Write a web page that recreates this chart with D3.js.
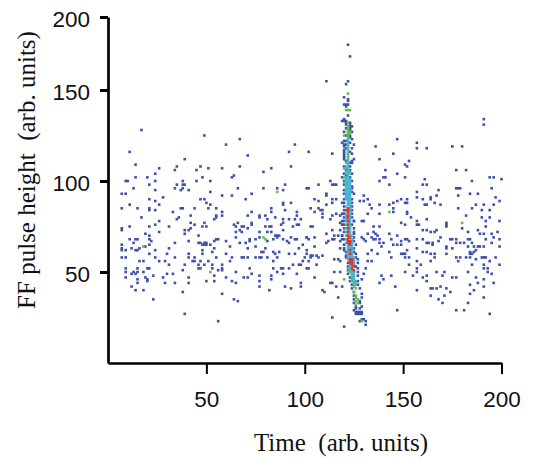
<!DOCTYPE html>
<html>
<head>
<meta charset="utf-8">
<script src="https://cdn.jsdelivr.net/npm/d3@7"></script>
<style>
body { margin: 0; background: #fff; }
svg { display: block; }
</style>
</head>
<body>
<div id="chart"></div>
<script>
// [time, pulse height], one array per count level
const bluePts = [
[17,128],[11,116],[14,109],[26,107],[24,104],[20,102],[14,102],[9,100],[10,100],[24,100],[21,98],[13,96],[24,95],[7,93],[9,93],[28,91],[21,90],[24,89],[11,87],[26,87],[7,85],[15,85],[21,85],[21,84],[24,84],[17,80],[26,78],[21,75],[24,76],[31,75],[11,75],[7,74],
[39,112],[35,108],[34,106],[38,100],[39,98],[35,98],[38,98],[38,96],[37,95],[34,96],[41,95],[45,100],[48,102],[47,108],[45,106],[51,107],[52,100],[52,94],[49,125],[60,120],[67,123],[71,114],[67,108],[58,107],[64,103],[63,102],[79,105],[83,107],[93,108],[92,116],[95,120],[102,116],[90,98],[86,96],[89,95],[79,96],[66,96],[73,93],[63,92],[58,92],[70,90],[47,90],[49,90],[50,88],[52,87],[37,85],[38,85],[44,85],[51,85],[55,85],[33,83],[42,81],[36,80],[35,79],[58,83],[58,81],[55,81],[55,80],[54,79],[49,77],[42,77],[44,76],[48,75],[50,75],[73,83],[71,81],[77,81],[77,80],[80,81],[83,85],[83,83],[81,79],[85,80],[89,79],[92,79],[95,79],[98,79],[96,83],[96,81],[90,84],[89,88],[89,87],[93,88],[101,96],[102,96],[64,76],[66,77],[68,75],[69,75],[71,74],[73,77],[73,76],[80,75],[82,75],[83,75],[89,77],[88,76],[94,75],[96,76],[97,76],[42,74],[65,75],
[7,73],[41,73],[39,73],[26,72],[39,71],[46,70],[65,72],[65,69],[67,73],[68,72],[77,72],[81,72],[83,72],[89,73],[85,70],[84,68],[86,69],[87,70],[86,70],[89,68],[81,67],[77,69],[75,68],[72,68],[72,67],[70,66],[67,66],[62,64],[60,67],[55,68],[56,68],[54,67],[52,65],[50,65],[49,65],[48,65],[47,66],[50,66],[49,66],[46,66],[41,67],[34,66],[31,63],[30,60],[34,58],[24,62],[21,65],[22,67],[21,70],[19,71],[21,68],[15,68],[14,68],[13,66],[11,68],[7,65],[7,63],[7,62],[9,62],[12,63],[14,62],[15,62],[16,63],[19,64],[21,60],[24,58],[26,56],[29,56],[31,54],[18,56],[16,56],[7,58],[9,58],[9,52],[9,50],[12,49],[13,50],[14,49],[15,52],[15,50],[18,50],[20,52],[21,52],[23,48],[19,47],[20,46],[20,45],[15,46],[15,44],[9,47],[28,47],[30,49],[33,49],[29,44],[34,44],[38,51],[41,47],[41,44],[39,54],[41,60],[41,58],[44,58],[44,56],[43,56],[47,56],[46,54],[46,52],[47,52],[49,54],[51,56],[48,60],[48,62],[54,63],[53,61],[55,58],[60,60],[63,58],[62,56],[58,54],[58,52],[58,51],[56,51],[53,54],[53,52],[54,48],[54,45],[50,45],[60,47],[63,45],[65,44],[65,50],[69,47],[71,47],[73,49],[72,52],[68,58],[69,58],[71,58],[75,58],[77,58],[78,58],[81,58],[80,63],[79,61],[78,61],[75,64],[71,63],[84,61],[85,60],[86,58],[87,61],[84,56],[84,52],[86,50],[88,52],[89,52],[92,52],[89,49],[94,54],[96,49],[98,54],[99,56],[100,58],[101,60],[99,65],[97,63],[101,62],[102,52],[95,60],[92,60],[92,66],[91,67],[95,68],[96,68],[93,69],[101,69],[77,48],[77,45],[77,42],[82,40],[83,48],[83,46],[90,42],[93,41],[98,44],[98,42],[12,42],[14,40],[18,40],[23,35],[38,39],[58,38],[64,35],[66,34],[39,27],[56,23],
[191,134],[191,131],[147,123],[136,119],[157,121],[157,118],[162,118],[175,119],[180,119],[145,115],[138,112],[153,111],[151,109],[152,108],[177,106],[182,106],[141,106],[147,104],[151,102],[140,102],[141,102],[138,100],[161,101],[143,98],[194,102],[196,102],[200,101],[185,100],[160,98],[162,98],[195,96],[177,96],[178,96],[179,96],[168,95],[157,94],[184,93],[188,93],[130,92],[157,91],[167,92],[197,91],[128,89],[130,89],[132,90],[147,89],[149,90],[152,90],[160,90],[164,91],[164,90],[199,89],[178,92],[151,88],[152,88],[145,88],[161,87],[162,87],[166,88],[169,87],[191,87],[196,87],[187,87],[185,85],[133,87],[134,85],[138,87],[143,87],[145,85],[145,83],[152,83],[152,82],[138,82],[132,82],[182,81],[178,85],[190,84],[194,84],[190,80],[194,80],[192,78],[199,78],[162,79],[154,80],[157,78],[149,77],[151,76],[157,76],[158,76],[172,77],[172,76],[125,78],[129,78],[130,78],
[135,75],[138,75],[135,72],[132,71],[136,71],[137,70],[143,71],[147,70],[129,69],[130,68],[131,67],[134,69],[135,68],[136,68],[138,68],[140,66],[138,66],[139,64],[144,68],[145,65],[147,65],[149,67],[149,65],[153,67],[151,68],[152,68],[157,68],[160,68],[162,66],[163,66],[165,66],[165,65],[168,67],[169,69],[164,72],[166,72],[167,73],[160,73],[162,73],[172,75],[175,68],[174,68],[177,68],[177,66],[179,66],[181,66],[183,68],[184,68],[185,66],[183,64],[186,64],[187,62],[188,64],[189,64],[191,64],[192,68],[195,66],[196,69],[199,68],[199,64],[183,72],[188,73],[189,71],[191,71],[195,71],[198,72],[192,75],[180,74],[172,64],[172,63],[175,63],[157,63],[160,61],[162,61],[164,60],[166,60],[166,58],[164,56],[172,60],[152,62],[151,60],[149,60],[150,60],[143,61],[144,58],[137,60],[132,60],[134,62],[134,56],[132,56],[131,52],[130,49],[129,46],[139,48],[140,46],[144,48],[138,44],[146,42],[151,58],[153,58],[153,54],[157,56],[159,54],[157,52],[157,50],[151,50],[155,48],[160,47],[162,48],[162,45],[167,50],[171,50],[170,48],[175,47],[177,47],[177,58],[178,56],[179,58],[182,58],[184,58],[184,60],[185,60],[186,61],[184,61],[187,57],[190,58],[191,58],[192,58],[194,56],[197,58],[185,54],[191,54],[191,52],[193,52],[193,50],[195,49],[199,54],[183,50],[187,47],[191,46],[188,44],[184,43],[196,44],[191,42],[186,40],[184,38],[191,36],[183,33],[157,40],[164,41],[165,41],[167,41],[169,42],[172,41],[171,37],[174,39],[164,37],[168,35],[170,33],[147,29],[177,29],[181,29],[194,27],
[122,181],[123,173],[111,156],[122,156],[121,154],[114,115],[107,98],[113,100],[114,98],[115,98],[116,98],
[111,93],[111,92],[105,90],[107,89],[103,85],[105,83],[111,87],[114,90],[114,88],[116,90],[107,85],[108,84],[109,84],[109,82],[109,80],[113,79],[114,81],[116,82],[119,88],[103,75],[104,75],[111,71],[114,73],[115,70],[115,68],[112,67],[111,66],[114,68],[118,73],[119,70],[118,67],[119,68],[117,70],[105,64],[109,59],[103,59],[104,59],[106,59],[107,58],[103,58],[102,56],[106,54],[101,52],[97,54],[115,57],[117,57],[118,56],[120,62],[118,63],[101,69],[102,68],[105,69],[115,50],[118,50],[113,44],[114,44],[116,42],[119,42],[109,40],[110,39],[105,47],[117,36],[114,25],[120,20],[118,77],[119,76],[119,78],[118,81],[119,82],
[120,146],[122,145],[122,144],[120,142],[121,142],[122,142],[121,141],[122,136],[120,134],[119,133],[120,133],[121,133],[121,132],[123,132],[121,131],[123,131],[124,130],[123,130],[121,129],[123,129],[123,128],[120,127],[124,127],[123,125],[121,125],[123,124],[124,123],[120,122],[121,122],[119,121],[120,120],[121,120],[123,121],[125,120],[120,119],[121,118],[124,118],[120,117],[120,116],[123,116],[120,115],[124,115],[120,114],[125,112],[120,113],[120,112],[121,111],[124,111],[123,110],[124,110],[120,108],[123,108],[121,106],[123,106],[120,104],[124,104],[119,102],[121,103],[120,100],[124,100],[123,102],
[120,98],[124,97],[124,96],[120,95],[124,94],[120,93],[125,93],[120,90],[124,90],[120,88],[124,88],[120,86],[124,86],[124,84],[120,84],[120,82],[124,82],[120,80],[124,80],[125,78],[120,78],[120,76],[124,76],[125,74],[120,74],[120,72],[125,72],[119,70],[125,71],[120,68],[125,69],[125,67],[120,65],[126,65],[120,63],[125,63],[121,61],[125,61],[126,60],[121,59],[126,58],[121,58],[127,57],[122,55],[127,55],[122,53],[127,52],[122,51],[126,53],[127,50],[122,49],[123,47],[127,48],[123,45],[127,45],[124,43],[127,43],[124,41],[128,41],[125,39],[129,38],[125,37],[129,36],[125,35],[128,34],[125,33],[128,33],[126,31],[129,31],[126,30],[128,30],[125,29],[126,28],[127,28],[128,28],[129,28],[126,27],[127,27],[128,27],[129,27],[129,24],[130,24],[128,23],[131,23],[131,21]
];
const greenPts = [
[86,94],[79,69],[80,68],[18,64],[52,50],[143,83],[180,77],[120,46],
[122,148],[122,139],[123,139],[121,139],[120,125],[122,132],[122,130],[122,129],[122,128],[122,127],[123,127],[122,126],[123,126],[122,125],[122,120],[122,116],[122,113],[121,110],[123,105],[120,107],[120,102],[120,99],
[122,52],[123,50],[124,47],[125,44],[125,42],[126,41],[125,39],[126,37],[126,36],[127,35],[126,34],[127,33],[126,32],[129,23],[121,70],[121,76],[123,60]
];
const cyanPts = [
[122,124],[122,123],[122,122],[122,121],[122,119],[122,118],[122,117],[122,115],[122,114],[122,112],[122,111],[122,110],[122,109],[121,108],[122,108],[121,107],[122,107],[122,106],[122,105],[121,105],[122,104],[121,104],[123,104],[122,103],[122,102],[121,102],[122,101],[121,101],[123,101],
[121,100],[122,100],[123,100],[121,99],[122,99],[123,99],[121,98],[122,98],[123,98],[121,97],[122,97],[123,97],[121,96],[122,96],[123,96],[121,95],[122,95],[123,95],[121,94],[122,94],[123,94],[121,93],[122,93],[123,93],[121,92],[122,92],[123,92],[121,91],[122,91],[123,91],[121,90],[122,90],[123,90],[122,89],[123,89],[122,88],[123,88],[122,87],[123,87],[121,86],[123,86],
[123,85],[123,84],[123,83],[123,82],[121,82],[122,82],[121,81],[123,81],[121,80],[123,80],[121,79],[122,79],[123,79],[121,78],[123,78],[122,77],[123,77],[123,76],[122,75],[123,75],[121,74],[123,74],[122,73],[123,73],[121,72],[123,72],[122,71],[123,71],[123,70],[124,70],[122,69],[121,68],[124,68],[124,67],[121,66],[124,66],[122,65],[124,65],[122,64],[123,64],[124,64],[122,63],[123,63],[124,63],[122,62],[124,62],[122,61],[123,61],[124,61],[122,60],[124,60],[122,59],[123,59],[124,59],[122,58],[123,58],[124,58],[125,58],[122,57],[125,57],[125,56],[125,55],[125,54],[123,54],[123,53],[124,53],[123,52],[123,51],[124,51],[124,50],[125,50],[124,49],[125,49],[124,48],[125,48],[125,47],[124,46],[125,46],[124,45],[125,45],[126,45],[126,44],[126,43],[125,43]
];
const redPts = [
[122,85],[122,84],[122,83],[121,84],[122,81],[122,80],[122,78],[122,76],[122,74],[122,72],[122,70],[123,69],[122,68],[122,67],[123,67],[122,66],[123,66],[123,65],[123,62],[123,60],[123,57],[124,57],[123,56],[124,56],[123,55],[124,55],[124,54],[125,53],[124,52],[125,51]
];
const xTicks = [50, 100, 150, 200];
const yTicks = [50, 100, 150, 200];

const width = 540, height = 457;
const svg = d3.select('#chart').append('svg')
    .attr('width', width)
    .attr('height', height);

const x = d3.scaleLinear().domain([0, 200]).range([108, 501.5]);
// the printed axis is compressed above 150
const y = d3.scaleLinear().domain([0, 150, 200]).range([363, 90, 17]);

const layers = [
    { pts: bluePts, color: '#3d51a9' },
    { pts: cyanPts, color: '#4cb5d6' },
    { pts: greenPts, color: '#66bd4b' },
    { pts: redPts, color: '#e5352b' }
];
const cell = 2.6;
layers.forEach(l => {
    svg.append('g')
        .selectAll('rect')
        .data(l.pts)
        .join('rect')
        .attr('x', d => x(d[0]) - cell / 2)
        .attr('y', d => y(d[1]) - cell / 2)
        .attr('width', cell)
        .attr('height', cell)
        .attr('fill', l.color);
});

const xAxis = svg.append('g')
    .attr('transform', `translate(0, ${y(0)})`)
    .call(d3.axisBottom(x).tickValues(xTicks).tickSize(11).tickPadding(17).tickSizeOuter(0));
const yAxis = svg.append('g')
    .attr('transform', `translate(${x(0)}, 0)`)
    .call(d3.axisLeft(y).tickValues(yTicks).tickSize(8).tickPadding(10).tickSizeOuter(0));

[xAxis, yAxis].forEach(a => {
    a.select('.domain').attr('stroke', '#000').attr('stroke-width', 2.7);
    a.selectAll('.tick text')
        .attr('fill', '#111')
        .style('font-family', '"Liberation Sans", sans-serif')
        .style('font-size', '22.5px');
});
yAxis.selectAll('.tick text').attr('dy', '0.42em');
xAxis.selectAll('.tick line').attr('stroke', '#000').attr('stroke-width', 2);
yAxis.selectAll('.tick line').attr('stroke', '#000').attr('stroke-width', 3);

svg.append('text')
    .attr('x', 341)
    .attr('y', 451)
    .attr('text-anchor', 'middle')
    .style('font-family', '"Liberation Serif", serif')
    .style('font-size', '25px')
    .style('white-space', 'pre')
    .attr('fill', '#111')
    .text('Time  (arb. units)');

svg.append('text')
    .attr('transform', 'translate(35, 170) rotate(-90)')
    .attr('text-anchor', 'middle')
    .style('font-family', '"Liberation Serif", serif')
    .style('font-size', '25px')
    .style('white-space', 'pre')
    .attr('fill', '#111')
    .text('FF pulse height  (arb. units)');
</script>
</body>
</html>
